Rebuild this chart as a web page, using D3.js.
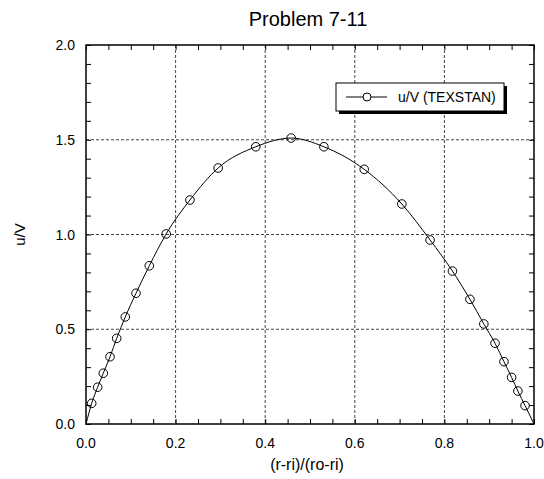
<!DOCTYPE html>
<html><head><meta charset="utf-8">
<script src="https://cdn.jsdelivr.net/npm/d3@7"></script>
<style>body{margin:0;background:#fff}svg{display:block}text{font-family:"Liberation Sans",Arial,sans-serif;fill:#000}</style>
</head><body>
<svg id="c" width="544" height="479"></svg>
<script>
const title = "Problem 7-11";
const xLabel = "(r-ri)/(ro-ri)";
const yLabel = "u/V";
const legendLabel = "u/V (TEXSTAN)";
const xTicks = [0, 0.2, 0.4, 0.6, 0.8, 1.0];
const yTicks = [0, 0.5, 1.0, 1.5, 2.0];
// marker points (TEXSTAN grid)
const xs = [0.0127, 0.026, 0.0386, 0.0536, 0.0685, 0.0877, 0.1116, 0.1413, 0.179, 0.232, 0.295, 0.379, 0.458, 0.531, 0.621, 0.705, 0.768, 0.818, 0.857, 0.888, 0.913, 0.933, 0.950, 0.964, 0.980];
const us = [0.109, 0.194, 0.268, 0.355, 0.452, 0.565, 0.690, 0.835, 1.003, 1.182, 1.351, 1.463, 1.509, 1.463, 1.344, 1.161, 0.971, 0.807, 0.658, 0.528, 0.426, 0.329, 0.246, 0.174, 0.097];
// wall end points of the curve (no-slip)
const wallX = [0, 1];
const wallU = [0, 0];

const svg = d3.select("#c");
const L = 86, R = 534, T = 45, B = 424;
const x = d3.scaleLinear().domain([0, 1]).range([L, R]);
const y = d3.scaleLinear().domain([0, 2]).range([B, T]);

// grid
const g = svg.append("g");
g.selectAll(".gx").data(xTicks.slice(1, -1)).join("line")
  .attr("x1", d => x(d)).attr("x2", d => x(d)).attr("y1", T).attr("y2", B)
  .attr("stroke", "#444").attr("stroke-width", 1).attr("stroke-dasharray", "3,2");
g.selectAll(".gy").data(yTicks.slice(1, -1)).join("line")
  .attr("y1", d => y(d)).attr("y2", d => y(d)).attr("x1", L).attr("x2", R)
  .attr("stroke", "#444").attr("stroke-width", 1).attr("stroke-dasharray", "3,2");

// axes with inward minor ticks
const minorX = d3.range(0, 1.0001, 0.05);
const minorY = d3.range(0, 2.0001, 0.1);
const axB = d3.axisBottom(x).tickValues(minorX).tickSize(-5).tickFormat("");
const axT = d3.axisTop(x).tickValues(minorX).tickSize(-5).tickFormat("");
const axL = d3.axisLeft(y).tickValues(minorY).tickSize(-5).tickFormat("");
const axR = d3.axisRight(y).tickValues(minorY).tickSize(-5).tickFormat("");
[[axB, `translate(0,${B})`], [axT, `translate(0,${T})`], [axL, `translate(${L},0)`], [axR, `translate(${R},0)`]].forEach(([a, tr]) => {
  const s = svg.append("g").attr("transform", tr).call(a);
  s.select(".domain").remove();
  s.selectAll("line").attr("stroke", "#000");
});
svg.append("rect").attr("x", L).attr("y", T).attr("width", R - L).attr("height", B - T)
  .attr("fill", "none").attr("stroke", "#000").attr("stroke-width", 1.5);

// tick labels
svg.append("g").selectAll("text").data(xTicks).join("text")
  .attr("x", d => x(d)).attr("y", B + 24).attr("text-anchor", "middle")
  .attr("font-size", 14).text(d => d3.format(".1f")(d));
svg.append("g").selectAll("text").data(yTicks).join("text")
  .attr("x", L - 11).attr("y", d => y(d) + 5).attr("text-anchor", "end")
  .attr("font-size", 14).text(d => d3.format(".1f")(d));

// titles
svg.append("text").attr("x", 308).attr("y", 26).attr("text-anchor", "middle").attr("font-size", 20).text(title);
svg.append("text").attr("x", 307).attr("y", 470).attr("text-anchor", "middle").attr("font-size", 16).text(xLabel);
svg.append("text").attr("transform", `translate(25,${(T + B) / 2}) rotate(-90)`).attr("text-anchor", "middle").attr("font-size", 15).text(yLabel);

// curve
const pts = [[wallX[0], wallU[0]]].concat(xs.map((d, i) => [d, us[i]])).concat([[wallX[1], wallU[1]]]);
const line = d3.line().x(d => x(d[0])).y(d => y(d[1])).curve(d3.curveMonotoneX);
svg.append("path").attr("d", line(pts)).attr("fill", "none").attr("stroke", "#000").attr("stroke-width", 1);
svg.append("g").selectAll("circle").data(xs.map((d, i) => [d, us[i]])).join("circle")
  .attr("cx", d => x(d[0])).attr("cy", d => y(d[1])).attr("r", 4.3)
  .attr("fill", "none").attr("stroke", "#000").attr("stroke-width", 1);

// legend
const lx = 336, ly = 83, lw = 168, lh = 28;
svg.append("rect").attr("x", lx + 3).attr("y", ly + 3).attr("width", lw).attr("height", lh).attr("fill", "#000");
svg.append("rect").attr("x", lx).attr("y", ly).attr("width", lw).attr("height", lh).attr("fill", "#fff").attr("stroke", "#000").attr("stroke-width", 1);
svg.append("line").attr("x1", lx + 10).attr("x2", lx + 51).attr("y1", ly + lh / 2).attr("y2", ly + lh / 2).attr("stroke", "#000");
svg.append("circle").attr("cx", lx + 31).attr("cy", ly + lh / 2).attr("r", 4).attr("fill", "#fff").attr("stroke", "#000");
svg.append("text").attr("x", lx + 62).attr("y", ly + lh / 2 + 5).attr("font-size", 14).text(legendLabel);
</script>
</body></html>
